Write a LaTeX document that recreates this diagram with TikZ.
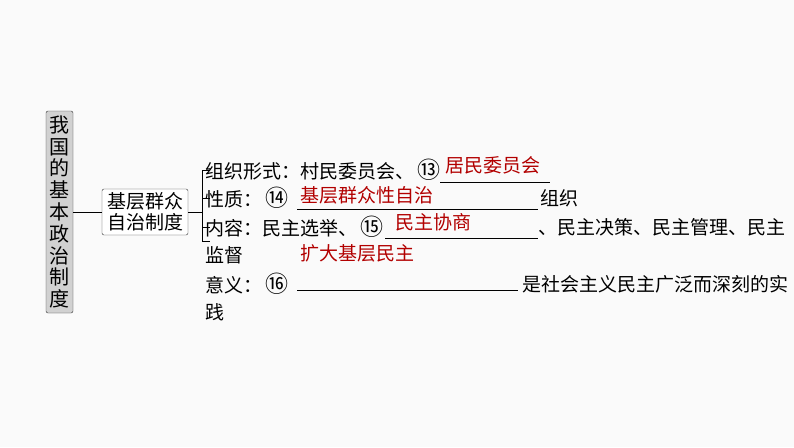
\documentclass[tikz,border=0pt]{standalone}
\usepackage{fontspec}
\setmainfont{Noto Sans CJK SC}
\newcommand\circnum[1]{{\fontsize{23}{22}\selectfont#1}}
\begin{document}
\begin{tikzpicture}[x=1pt,y=-1pt, font=\fontsize{19}{22}\selectfont,
    box/.style={draw=black!80, rounded corners=2pt, inner sep=2pt, align=center},
    txt/.style={anchor=west, inner sep=0pt},
    ans/.style={anchor=west, inner sep=0pt, text=red!70!black}]
    \useasboundingbox[fill=black!2] (0,0) rectangle (794,447);
    \node[box, fill=black!18, minimum width=27pt, minimum height=202pt, font=\fontsize{20}{21.8}\selectfont] (sys) at (59.5,212) {我\\国\\的\\基\\本\\政\\治\\制\\度};
    \node[box, fill=white, minimum width=86pt, minimum height=46pt, font=\fontsize{19}{21}\selectfont] (jc) at (145,212) {基层群众\\自治制度};
    \draw (sys.east) -- (jc.west);
    \coordinate (br) at (202,212);
    \draw (jc.east) -- (br);
    \draw (210,170) -- (202,170) -- (202,241) -- (210,241);
    \draw (202,198) -- (210,198);
    \draw (202,227) -- (210,227);
    % 条目
    \node[txt] (l1) at (205,170) {组织形式：村民委员会、\,\circnum{⑬}};
    \node[txt] (l2) at (205,198) {性质：\,\circnum{⑭}};
    \node[txt] (l3) at (205,227) {内容：民主选举、\,\circnum{⑮}};
    \node[txt] (l4) at (205,255) {监督};
    \node[txt] (l5) at (205,284) {意义：\,\circnum{⑯}};
    \node[txt] (l6) at (205,312) {践};
    \coordinate (u1) at (440,182);
    \draw (u1) -- (550,182);
    \draw (297,209) -- (538,209);
    \node[txt] (z2) at (540,198) {组织};
    \draw (385,238) -- (538,238);
    \node[txt] (r3) at (538,227) {、民主决策、民主管理、民主};
    \draw (297,290) -- (518,290);
    \node[txt] (r5) at (522,284) {是社会主义民主广泛而深刻的实};
    % 答案
    \node[ans] (a1) at (445,165) {居民委员会};
    \node[ans] (a2) at (300,195) {基层群众性自治};
    \node[ans] (a3) at (395,222) {民主协商};
    \node[ans] (a4) at (300,253) {扩大基层民主};
\end{tikzpicture}
\end{document}
